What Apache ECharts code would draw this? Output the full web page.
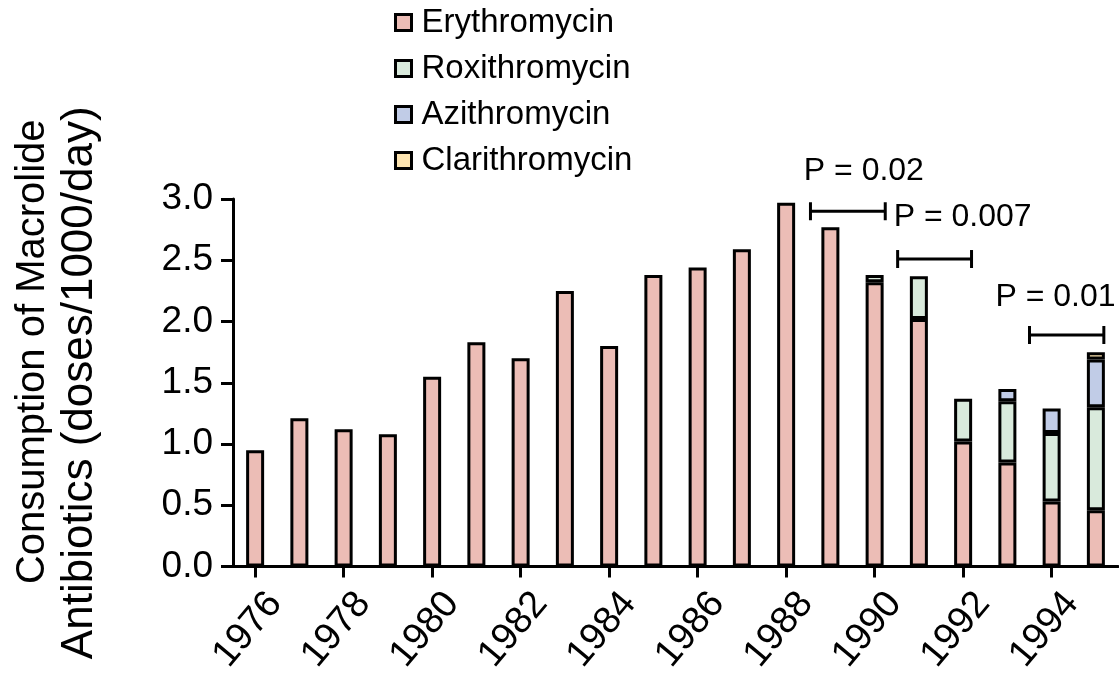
<!DOCTYPE html>
<html>
<head>
<meta charset="utf-8">
<script src="https://cdn.jsdelivr.net/npm/echarts@6/dist/echarts.min.js"></script>
<style>
  html, body { margin: 0; padding: 0; background: #fff; }
  #divChart { width: 1119px; height: 681px; }
</style>
</head>
<body>
<div id="divChart"></div>
<script>
var years = ['1976', '1977', '1978', '1979', '1980', '1981', '1982', '1983', '1984', '1985',
    '1986', '1987', '1988', '1989', '1990', '1991', '1992', '1993', '1994', '1995'];
var erythromycin = [0.95, 1.21, 1.12, 1.08, 1.55, 1.83, 1.70, 2.25, 1.80, 2.38,
    2.44, 2.59, 2.97, 2.77, 2.32, 2.02, 1.02, 0.85, 0.53, 0.46];
var roxithromycin = [0, 0, 0, 0, 0, 0, 0, 0, 0, 0,
    0, 0, 0, 0, 0.06, 0.35, 0.35, 0.50, 0.56, 0.84];
var azithromycin = [0, 0, 0, 0, 0, 0, 0, 0, 0, 0,
    0, 0, 0, 0, 0, 0, 0, 0.10, 0.20, 0.39];
var clarithromycin = [0, 0, 0, 0, 0, 0, 0, 0, 0, 0,
    0, 0, 0, 0, 0, 0, 0, 0, 0, 0.06];
var yTicks = [0, 0.5, 1.0, 1.5, 2.0, 2.5, 3.0];

// brackets: [from (category index), to, y, label, label x, label y]
var brackets = [
    [12.55, 14.24, 2.90, 'P = 0.02', 12.40, 3.23],
    [14.52, 16.19, 2.51, 'P = 0.007', 14.43, 2.85],
    [17.50, 19.18, 1.89, 'P = 0.01', 16.73, 2.20]
];

var colors = ['#ecbdb6', '#d9eadc', '#c1cce7', '#fde4b0'];
var fontName = 'Liberation Sans';
var myChart = echarts.init(document.getElementById('divChart'));

function barSeries(name, data, color) {
    return {
        name: name,
        type: 'bar',
        stack: 'total',
        barWidth: 18,
        data: data.map(function (v) { return v === 0 ? '-' : v; }),
        itemStyle: { color: color, borderColor: '#000', borderWidth: 3 }
    };
}

function renderBracket(params, api) {
    var b = brackets[params.dataIndex];
    var p0 = api.coord([0, 0]);
    var bw = api.size([1, 0])[0];
    var x1 = p0[0] + b[0] * bw;
    var x2 = p0[0] + b[1] * bw;
    var y = api.coord([0, b[2]])[1];
    var tx = p0[0] + b[4] * bw;
    var ty = api.coord([0, b[5]])[1];
    var ls = { stroke: '#000', lineWidth: 3 };
    return {
        type: 'group',
        children: [
            { type: 'line', shape: { x1: x1, y1: y, x2: x2, y2: y }, style: ls },
            { type: 'line', shape: { x1: x1, y1: y - 9, x2: x1, y2: y + 9 }, style: ls },
            { type: 'line', shape: { x1: x2, y1: y - 9, x2: x2, y2: y + 9 }, style: ls },
            {
                type: 'text', x: tx, y: ty,
                style: {
                    text: b[3], fill: '#000', font: '32px "' + fontName + '"',
                    textAlign: 'left', textVerticalAlign: 'middle'
                }
            }
        ]
    };
}

var option = {
    animation: false,
    textStyle: { fontFamily: fontName, color: '#000' },
    legend: {
        orient: 'vertical',
        left: 394,
        top: 6,
        padding: 0,
        itemWidth: 16,
        itemHeight: 16,
        itemGap: 13,
        icon: 'rect',
        itemStyle: { borderColor: '#000', borderWidth: 3 },
        textStyle: { fontSize: 33, color: '#000', fontFamily: fontName, padding: [0, 0, 0, 5] },
        data: ['Erythromycin', 'Roxithromycin', 'Azithromycin', 'Clarithromycin']
    },
    grid: { left: 233, right: 1, top: 199, bottom: 113, containLabel: false },
    xAxis: {
        type: 'category',
        data: years,
        axisLine: { lineStyle: { color: '#000', width: 3 } },
        axisTick: { show: true, interval: 1, alignWithLabel: true, length: 11, lineStyle: { width: 3, color: '#000' } },
        axisLabel: {
            interval: 1, rotate: 50, fontSize: 38, lineHeight: 52, color: '#000', margin: 14, fontFamily: fontName,
            align: 'right', verticalAlign: 'top'
        }
    },
    yAxis: {
        type: 'value',
        min: yTicks[0],
        max: yTicks[yTicks.length - 1],
        interval: 0.5,
        name: '{a|Consumption of Macrolide}\n{b|Antibiotics (doses/1000/day)}',
        nameLocation: 'middle',
        nameRotate: 90,
        nameGap: 130,
        nameTextStyle: {
            color: '#000', lineHeight: 47, fontFamily: fontName,
            rich: {
                a: { fontSize: 40, lineHeight: 47, color: '#000', fontFamily: fontName, padding: [0, 0, 0, 62] },
                b: { fontSize: 44, lineHeight: 47, color: '#000', fontFamily: fontName }
            }
        },
        splitLine: { show: false },
        axisLine: { show: true, lineStyle: { color: '#000', width: 3 } },
        axisTick: { show: true, length: 12, lineStyle: { width: 3, color: '#000' } },
        axisLabel: {
            fontSize: 37, color: '#000', margin: 20, fontFamily: fontName,
            formatter: function (v) { return v.toFixed(1); }
        }
    },
    series: [
        barSeries('Erythromycin', erythromycin, colors[0]),
        barSeries('Roxithromycin', roxithromycin, colors[1]),
        barSeries('Azithromycin', azithromycin, colors[2]),
        barSeries('Clarithromycin', clarithromycin, colors[3]),
        {
            type: 'custom',
            renderItem: renderBracket,
            data: brackets.map(function (b, i) { return [i, b[2]]; }),
            silent: true,
            z: 10
        }
    ]
};
myChart.setOption(option);
</script>
</body>
</html>
